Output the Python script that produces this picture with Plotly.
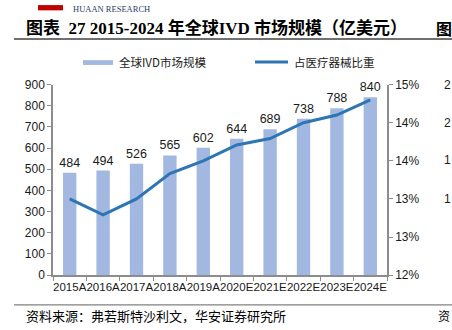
import plotly.graph_objects as go

# Global IVD market size (100 million USD) and its share of the medical device market
years = ["2015A", "2016A", "2017A", "2018A", "2019A",
         "2020E", "2021E", "2022E", "2023E", "2024E"]
market_size = [484, 494, 526, 565, 602, 644, 689, 738, 788, 840]
device_share = [0.1320, 0.1295, 0.1320, 0.1360, 0.1380,
                0.1405, 0.1415, 0.1440, 0.1452, 0.1476]

left_ticks = [0, 100, 200, 300, 400, 500, 600, 700, 800, 900]
right_ticks = [0.12, 0.126, 0.132, 0.138, 0.144, 0.15]

W, H = 452, 330
BAR_COLOR = "#A3B8E1"
LINE_COLOR = "#2E75B6"
AXIS_COLOR = "#8C8C8C"
TEXT_COLOR = "#1A1A1A"


def px(x):
    return x / W


def py(y):
    return 1 - y / H


fig = go.Figure()
fig.add_trace(go.Bar(
    x=years, y=market_size, name="全球IVD市场规模",
    marker=dict(color=BAR_COLOR, line=dict(width=0)),
    text=[str(v) for v in market_size], textposition="outside",
    constraintext="none",
    textfont=dict(size=12.5, color=TEXT_COLOR, family="Liberation Sans, Arial"),
    cliponaxis=False, showlegend=False,
))
fig.add_trace(go.Scatter(
    x=years, y=device_share, name="占医疗器械比重", yaxis="y2",
    mode="lines", line=dict(color=LINE_COLOR, width=3),
    showlegend=False,
))

axis_font = dict(size=12, color=TEXT_COLOR, family="Liberation Sans, Arial")
fig.update_layout(
    width=W, height=H,
    margin=dict(l=0, r=0, t=0, b=0),
    paper_bgcolor="white", plot_bgcolor="white",
    bargap=0.6,
    xaxis=dict(
        domain=[px(53), px(387)], type="category",
        showline=True, linecolor=AXIS_COLOR, linewidth=1.5,
        ticks="outside", tickson="boundaries", ticklen=4, tickcolor=AXIS_COLOR,
        tickfont=dict(size=11.5, color=TEXT_COLOR, family="Liberation Sans, Arial"),
        tickangle=0, showgrid=False, anchor="y",
    ),
    yaxis=dict(
        domain=[py(280), py(81)], range=[0, 900], tickvals=left_ticks,
        showline=True, linecolor=AXIS_COLOR, linewidth=1.5,
        ticks="outside", ticklen=4, tickcolor=AXIS_COLOR,
        tickfont=axis_font, showgrid=False, zeroline=False,
    ),
    yaxis2=dict(
        overlaying="y", side="right", range=[0.12, 0.15],
        tickvals=right_ticks, tickformat=".0%",
        showline=True, linecolor=AXIS_COLOR, linewidth=1.5,
        ticks="outside", ticklen=4, tickcolor=AXIS_COLOR,
        tickfont=axis_font, showgrid=False, zeroline=False,
    ),
)

shapes = []
annotations = []

# Header: logo block and rule under the title
shapes.append(dict(type="rect", xref="paper", yref="paper",
                   x0=px(38), x1=px(63), y0=py(3.5), y1=py(-2),
                   fillcolor="#C00000", line=dict(width=0)))
annotations.append(dict(text="HUAAN RESEARCH", xref="paper", yref="paper",
                        x=px(111), y=py(2.5), xanchor="center", yanchor="middle",
                        showarrow=False,
                        font=dict(size=8.5, color="#2B3A67",
                                  family="Liberation Serif, Times New Roman")))
annotations.append(dict(text="<b>图表  27 2015-2024 年全球IVD 市场规模（亿美元）</b>",
                        xref="paper", yref="paper", x=px(24), y=py(22),
                        xanchor="left", yanchor="middle", showarrow=False,
                        font=dict(size=17, color="#000000",
                                  family="Liberation Serif, Noto Sans CJK SC")))
annotations.append(dict(text="<b>图</b>", xref="paper", yref="paper",
                        x=px(434), y=py(22), xanchor="left", yanchor="middle",
                        showarrow=False,
                        font=dict(size=16, color="#000000", family="Noto Sans CJK SC")))
shapes.append(dict(type="line", xref="paper", yref="paper",
                   x0=px(14), x1=1, y0=py(33.5), y1=py(33.5),
                   line=dict(color="#404040", width=1.5)))

# Legend drawn as swatches with labels
shapes.append(dict(type="rect", xref="paper", yref="paper",
                   x0=px(83), x1=px(113), y0=py(60.5), y1=py(55.5),
                   fillcolor=BAR_COLOR, line=dict(width=0)))
annotations.append(dict(text="全球IVD市场规模", xref="paper", yref="paper",
                        x=px(117), y=py(57.5), xanchor="left", yanchor="middle",
                        showarrow=False,
                        font=dict(size=11.5, color=TEXT_COLOR, family="Noto Sans CJK SC")))
shapes.append(dict(type="line", xref="paper", yref="paper",
                   x0=px(255), x1=px(288), y0=py(57.5), y1=py(57.5),
                   line=dict(color=LINE_COLOR, width=3)))
annotations.append(dict(text="占医疗器械比重", xref="paper", yref="paper",
                        x=px(292), y=py(57.5), xanchor="left", yanchor="middle",
                        showarrow=False,
                        font=dict(size=11.5, color=TEXT_COLOR, family="Noto Sans CJK SC")))

# Partial labels of the neighbouring chart at the right edge
for yy, t in [(81, "2"), (121, "2"), (160, "1"), (200, "1")]:
    annotations.append(dict(text=t, xref="paper", yref="paper",
                            x=px(442), y=py(yy), xanchor="left", yanchor="middle",
                            showarrow=False,
                            font=dict(size=12, color=TEXT_COLOR,
                                      family="Liberation Sans, Arial")))

# Footer rule and source note
shapes.append(dict(type="line", xref="paper", yref="paper",
                   x0=px(14), x1=1, y0=py(311), y1=py(311),
                   line=dict(color="#808080", width=1.2)))
annotations.append(dict(text="资料来源：弗若斯特沙利文，华安证券研究所",
                        xref="paper", yref="paper", x=px(24), y=py(322.5),
                        xanchor="left", yanchor="middle", showarrow=False,
                        font=dict(size=13, color="#000000", family="Noto Sans CJK SC")))
annotations.append(dict(text="资", xref="paper", yref="paper",
                        x=px(436), y=py(322.5), xanchor="left", yanchor="middle",
                        showarrow=False,
                        font=dict(size=12, color="#000000", family="Noto Sans CJK SC")))

fig.update_layout(shapes=shapes, annotations=annotations)
fig.write_html("out.html")
